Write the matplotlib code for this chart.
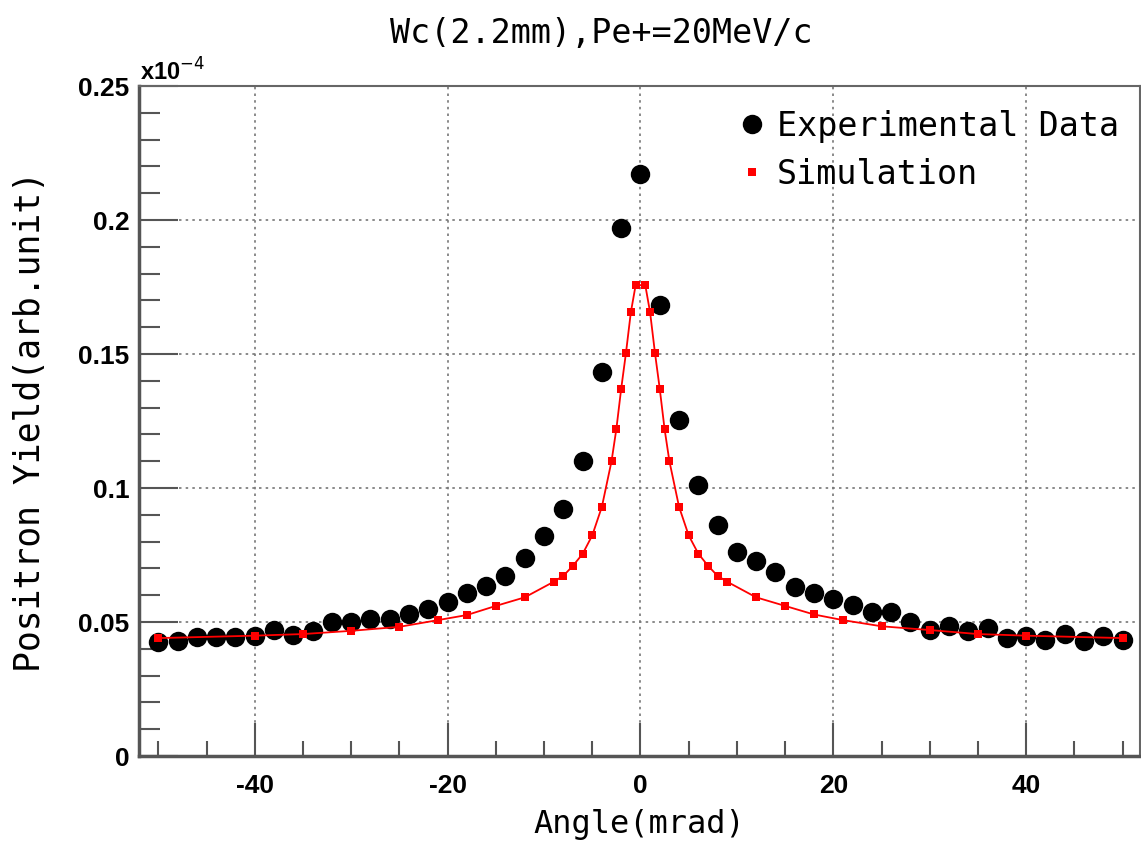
import matplotlib
matplotlib.use("Agg")
import matplotlib.pyplot as plt
from matplotlib.ticker import MultipleLocator, FixedLocator

# ---- data (units of 1e-4) ----
exp_angle = list(range(-50, 51, 2))
exp_yield = [0.0425, 0.0430, 0.0443, 0.0445, 0.0445, 0.0449, 0.0470, 0.0451, 0.0465, 0.0499,
             0.0499, 0.0511, 0.0513, 0.0530, 0.0548, 0.0573, 0.0608, 0.0635, 0.0670, 0.0738,
             0.0820, 0.0920, 0.1100, 0.1433, 0.1972, 0.2172, 0.1683, 0.1254, 0.1010, 0.0861,
             0.0762, 0.0728, 0.0685, 0.0631, 0.0610, 0.0585, 0.0563, 0.0536, 0.0536, 0.0501,
             0.0471, 0.0486, 0.0467, 0.0476, 0.0440, 0.0449, 0.0434, 0.0455, 0.0430, 0.0449,
             0.0433]

sim_angle = [-50, -40, -35, -30, -25, -21, -18, -15, -12, -9, -8, -7, -6, -5, -4, -3, -2.5, -2,
             -1.5, -1, -0.5, 0.5, 1, 1.5, 2, 2.5, 3, 4, 5, 6, 7, 8, 9, 12, 15, 18, 21, 25, 30,
             35, 40, 50]
sim_yield = [0.0440, 0.0449, 0.0455, 0.0467, 0.0482, 0.0507, 0.0526, 0.0560, 0.0592, 0.0650,
             0.0672, 0.0710, 0.0754, 0.0823, 0.0930, 0.1100, 0.1220, 0.1370, 0.1505, 0.1655,
             0.1757, 0.1757, 0.1655, 0.1505, 0.1370, 0.1220, 0.1100, 0.0930, 0.0823, 0.0755,
             0.0710, 0.0672, 0.0650, 0.0592, 0.0560, 0.0528, 0.0507, 0.0484, 0.0470, 0.0455,
             0.0449, 0.0440]

xticks = [-40, -20, 0, 20, 40]
yticks = [0, 0.05, 0.1, 0.15, 0.2, 0.25]
ytick_labels = ["0", "0.05", "0.1", "0.15", "0.2", "0.25"]

W, H = 1141, 845
fig = plt.figure(figsize=(W / 100, H / 100), dpi=100)
ax = fig.add_axes([139 / W, 1 - 757 / H, (1140 - 139) / W, (757 - 87) / H])

mono = "DejaVu Sans Mono"

ax.plot(sim_angle, sim_yield, color="red", lw=1.3, marker="s", ms=6,
        markeredgewidth=0, zorder=3, label="Simulation")
ax.plot(exp_angle, exp_yield, ls="none", marker="o", ms=14, color="black",
        markeredgewidth=0, zorder=2, label="Experimental Data")

ax.set_xlim(-52, 51.8)
ax.set_ylim(0, 0.25)

ax.xaxis.set_major_locator(FixedLocator(xticks))
ax.xaxis.set_minor_locator(MultipleLocator(5))
ax.yaxis.set_major_locator(FixedLocator(yticks))
ax.yaxis.set_minor_locator(MultipleLocator(0.01))
ax.set_yticklabels(ytick_labels)
ax.set_xticklabels([str(t) for t in xticks])

for lab in ax.get_xticklabels() + ax.get_yticklabels():
    lab.set_fontfamily("Liberation Sans")
    lab.set_fontweight("bold")
    lab.set_fontsize(19)

ax.tick_params(which="both", direction="in", top=False, right=False, color="#555555")
ax.tick_params(which="major", axis="x", length=24, width=1.5, pad=12)
ax.tick_params(which="minor", axis="x", length=11, width=1.5)
ax.tick_params(which="major", axis="y", length=28, width=1.5, pad=7)
ax.tick_params(which="minor", axis="y", length=15, width=1.5)

ax.grid(True, which="major", color="#777777", ls=(0, (1.5, 2.5)), lw=1.2)
ax.set_axisbelow(True)

for s in ["left", "bottom"]:
    ax.spines[s].set_linewidth(2.5)
    ax.spines[s].set_color("#555555")
for s in ["top", "right"]:
    ax.spines[s].set_linewidth(1.5)
    ax.spines[s].set_color("#666666")

ax.set_xlabel("Angle(mrad)", family=mono, fontsize=23, labelpad=8)
ax.set_ylabel("Positron Yield(arb.unit)", family=mono, fontsize=25, labelpad=22)

fig.text(601 / W, 1 - 33 / H, "Wc(2.2mm),Pe+=20MeV/c", family=mono, fontsize=24,
         ha="center", va="center")
fig.text(140 / W, 1 - 86 / H, r"x10$^{-4}$", family="Liberation Sans", weight="bold",
         fontsize=17, ha="left", va="bottom")

handles, labels = ax.get_legend_handles_labels()
leg = ax.legend(handles[::-1], labels[::-1], loc="upper right", bbox_to_anchor=(1.002, 1.0),
                frameon=False, prop=dict(family=mono, size=24), handlelength=0.6,
                handletextpad=0.45, labelspacing=0.45, borderaxespad=0.3)
for h in leg.legend_handles:
    h.set_linestyle("none")

fig.savefig("out.png", dpi=100)
